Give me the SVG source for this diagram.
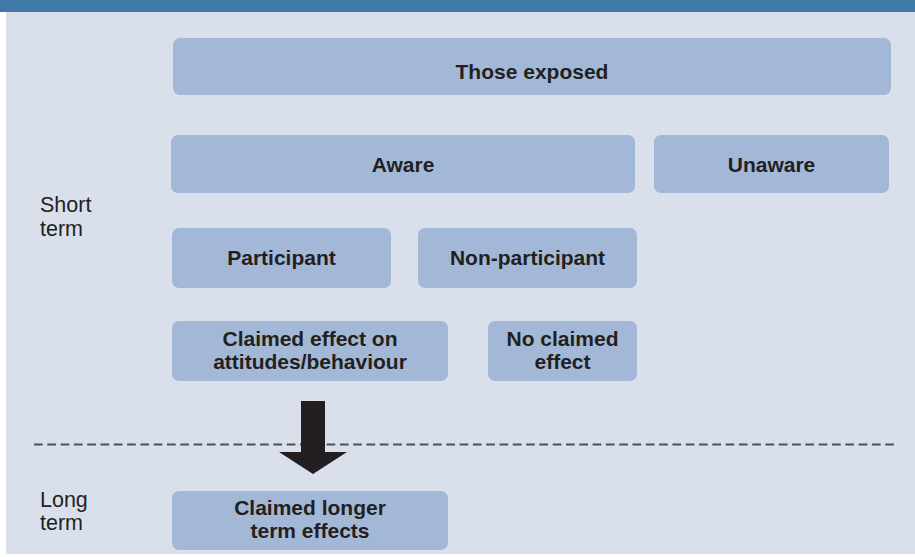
<svg xmlns="http://www.w3.org/2000/svg" width="915" height="557" viewBox="0 0 915 557">
<style>
.box{fill:#a3b8d7;}
.lbl{font-family:"Liberation Sans",Arial,sans-serif;font-weight:bold;font-size:21px;fill:#231f20;text-anchor:middle;}
.side{font-family:"Liberation Sans",Arial,sans-serif;font-size:21.5px;fill:#231f20;}
</style>
<rect x="0" y="0" width="915" height="557" fill="#ffffff"/>
<rect x="6" y="12" width="909" height="542" fill="#d9e0ec"/>
<rect x="0" y="0" width="915" height="12" fill="#4279ab"/>
<g id="side-labels">
<text class="side" x="40" y="212">Short</text>
<text class="side" x="40" y="236">term</text>
<text class="side" x="40" y="507">Long</text>
<text class="side" x="40" y="530">term</text>
</g>
<g id="connectors">
<line x1="34" y1="444.5" x2="897" y2="444.5" stroke="#4d5055" stroke-width="2" stroke-dasharray="8.7 4.6"/>
<polygon points="301,401 325,401 325,452 347,452 313,474 279,452 301,452" fill="#231f20"/>
</g>
<g id="those-exposed"><rect class="box" x="173" y="38" width="718" height="57" rx="7"/><text class="lbl" x="532" y="79">Those exposed</text></g>
<g id="aware"><rect class="box" x="171" y="135" width="464" height="58" rx="7"/><text class="lbl" x="403" y="172">Aware</text></g>
<g id="unaware"><rect class="box" x="654" y="135" width="235" height="58" rx="7"/><text class="lbl" x="771.5" y="172">Unaware</text></g>
<g id="participant"><rect class="box" x="172" y="228" width="219" height="60" rx="7"/><text class="lbl" x="281.5" y="265">Participant</text></g>
<g id="non-participant"><rect class="box" x="418" y="228" width="219" height="60" rx="7"/><text class="lbl" x="527.5" y="265">Non-participant</text></g>
<g id="claimed-effect"><rect class="box" x="172" y="321" width="276" height="60" rx="7"/><text class="lbl" x="310" y="346">Claimed effect on</text><text class="lbl" x="310" y="369">attitudes/behaviour</text></g>
<g id="no-claimed-effect"><rect class="box" x="488" y="321" width="149" height="60" rx="7"/><text class="lbl" x="562.5" y="346">No claimed</text><text class="lbl" x="562.5" y="369">effect</text></g>
<g id="claimed-longer"><rect class="box" x="172" y="491" width="276" height="59" rx="7"/><text class="lbl" x="310" y="515">Claimed longer</text><text class="lbl" x="310" y="538">term effects</text></g>
</svg>
